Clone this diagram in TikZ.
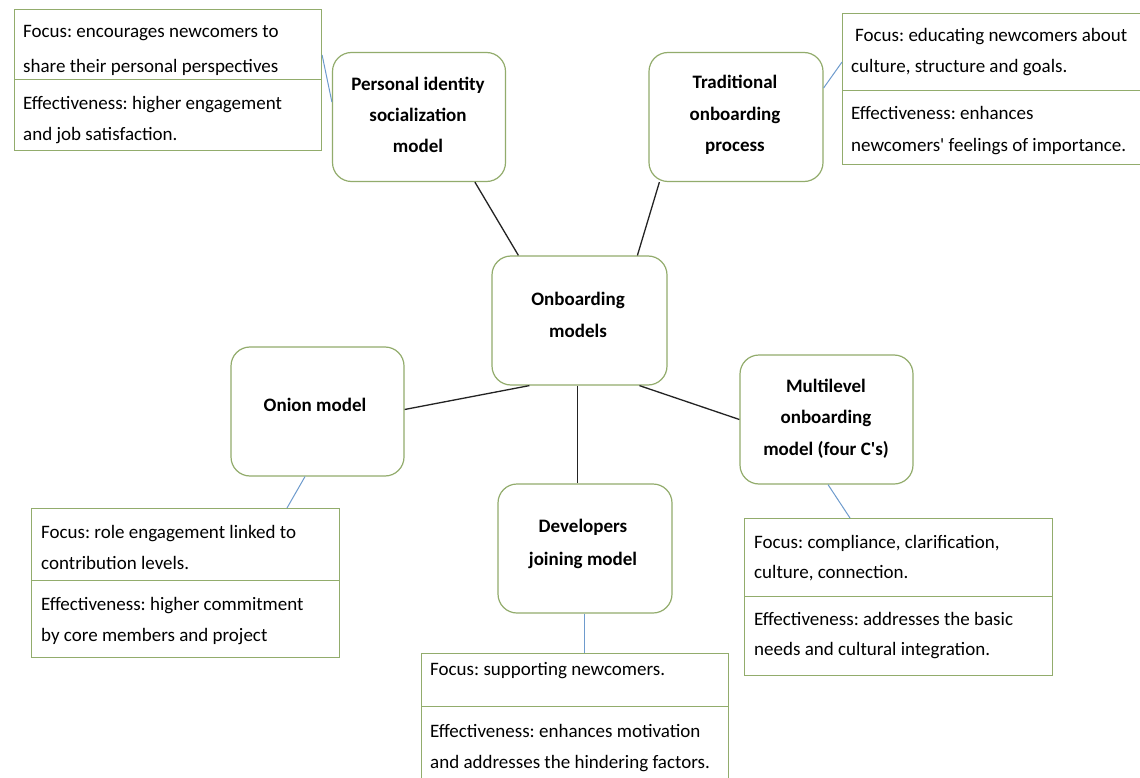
\documentclass[tikz,border=0pt]{standalone}
\usepackage{fontspec}
\setmainfont{Carlito}
\usetikzlibrary{calc}
\definecolor{boxgreen}{RGB}{146,172,108}
\definecolor{linkblue}{RGB}{110,155,205}
\definecolor{darkline}{RGB}{35,35,35}
\frenchspacing
\begin{document}
\begin{tikzpicture}[x=1pt,y=-1pt,
  model/.style={draw=boxgreen,line width=1.2pt,rounded corners=19pt,minimum width=173pt,minimum height=129pt,inner sep=0pt},
  infobox/.style={draw=boxgreen,line width=1.1pt,inner sep=0pt,anchor=north west},
  lbl/.style={font=\fontsize{19}{31.5}\selectfont\bfseries,align=center,anchor=base,inner sep=0pt},
  txt/.style={font=\fontsize{19}{32}\selectfont,align=left,anchor=base west,inner sep=0pt},
  link/.style={draw=darkline,line width=1.3pt},
  blink/.style={draw=linkblue,line width=1pt}]
\useasboundingbox[fill=white] (0,0) rectangle (1140,778);

% model boxes
\node[model] (pi) at (419,117) {};
\node[model,minimum width=174pt] (trad) at (736,117) {};
\node[model,minimum width=175pt] (ctr) at (579.5,320.5) {};
\node[model] (onion) at (317.5,411.5) {};
\node[model] (multi) at (826.5,419.5) {};
\node[model,minimum width=174pt] (dev) at (585,548.5) {};

% labels (anchor = baseline of the last line)
\node[lbl,font=\fontsize{19}{31}\selectfont\bfseries] (pil) at (418,153) {Personal identity\\socialization\\model};
\node[lbl] (tradl) at (735,152) {Traditional\\onboarding\\process};
\node[lbl,font=\fontsize{19}{32}\selectfont\bfseries] (ctrl) at (578,337) {Onboarding\\models};
\node[lbl] (onionl) at (315,411) {Onion model};
\node[lbl] (multil) at (826,455) {Multilevel\\onboarding\\model (four C\textquotesingle s)};
\node[lbl,font=\fontsize{19}{33}\selectfont\bfseries] (devl) at (583,565) {Developers\\joining model};

% info boxes, top parts and their texts
\node[infobox,minimum width=307pt,minimum height=71pt] (tlf) at (14,9) {};
\node[txt,font=\fontsize{19}{35}\selectfont] (tlft) at (23,73) {Focus: encourages newcomers to\\share their personal perspectives};
\node[infobox,fill=white,minimum width=307pt,minimum height=71pt] (tle) at (14,79) {};
\node[txt,font=\fontsize{19}{31}\selectfont] (tlet) at (23,141) {Effectiveness: higher engagement\\and job satisfaction.};

\node[infobox,minimum width=305pt,minimum height=77pt] (trf) at (842,13) {};
\node[infobox,minimum width=305pt,minimum height=74pt] (tre) at (842,90) {};
\node[txt,font=\fontsize{19}{31}\selectfont] (trft) at (851,73) {\hspace*{4pt}Focus: educating newcomers about\\culture, structure and goals.};
\node[txt] (tret) at (851,152) {Effectiveness: enhances\\newcomers\textquotesingle\ feelings of importance.};

\node[infobox,minimum width=308pt,minimum height=72pt] (onf) at (31,508) {};
\node[infobox,minimum width=308pt,minimum height=77pt] (one) at (31,580) {};
\node[txt,font=\fontsize{19}{31}\selectfont] (onft) at (41,569) {Focus: role engagement linked to\\contribution levels.};
\node[txt,font=\fontsize{19}{31}\selectfont] (onet) at (41,641) {Effectiveness: higher commitment\\by core members and project};

\node[infobox,minimum width=308pt,minimum height=78pt] (muf) at (744,518) {};
\node[infobox,minimum width=308pt,minimum height=79pt] (mue) at (744,596) {};
\node[txt,font=\fontsize{19}{30}\selectfont] (muft) at (754,578) {Focus: compliance, clarification,\\culture, connection.};
\node[txt,font=\fontsize{19}{30}\selectfont] (muet) at (754,655) {Effectiveness: addresses the basic\\needs and cultural integration.};

\node[infobox,minimum width=307pt,minimum height=53pt] (devf) at (421,653) {};
\node[infobox,minimum width=307pt,minimum height=95pt] (deve) at (421,706) {};
\node[txt] (devft) at (430,675) {Focus: supporting newcomers.};
\node[txt,font=\fontsize{19}{31}\selectfont] (devet) at (430,768) {Effectiveness: enhances motivation\\and addresses the hindering factors.};

% black connectors
\draw[link] ($(pi.south west)+(143,0)$) -- ($(ctr.north west)+(27,0)$);
\draw[link] ($(trad.south west)+(11,0)$) -- ($(ctr.north west)+(146,0)$);
\draw[link] ($(ctr.south west)+(38,0)$) -- ($(onion.east)+(0,-2)$);
\draw[link] ($(ctr.south west)+(86,0)$) -- ($(dev.north west)+(80,0)$);
\draw[link] ($(ctr.south west)+(148,0)$) -- (multi.west);

% blue connectors
\draw[blink] ($(tlf.north east)+(0,46)$) -- ($(pi.west)+(0,-15)$);
\draw[blink] ($(trad.east)+(0,-29)$) -- ($(trf.west)+(0,10)$);
\draw[blink] ($(onion.south)+(-12.5,0)$) -- ($(onf.north west)+(256,0)$);
\draw[blink] ($(multi.south)+(1.5,0)$) -- ($(muf.north west)+(106,0)$);
\draw[blink] ($(dev.south)+(-1,0)$) -- ($(devf.north west)+(163,0)$);
\end{tikzpicture}
\end{document}
